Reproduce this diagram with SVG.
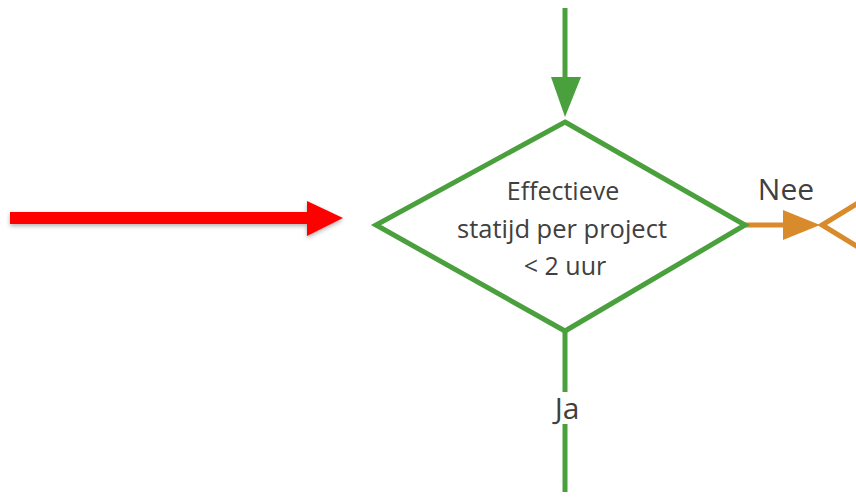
<svg xmlns="http://www.w3.org/2000/svg" width="856" height="498" viewBox="0 0 856 498">
<defs>
<filter id="sh" x="-5%" y="-50%" width="110%" height="200%"><feDropShadow dx="0" dy="2" stdDeviation="2" flood-color="#000" flood-opacity="0.3"/></filter>
</defs>
<style>
.g{stroke:#4aa03c;stroke-width:5;fill:none}
.o{stroke:#d98a2b;stroke-width:5;fill:none}
.t{font-family:"Open Sans","Liberation Sans",sans-serif;fill:#404040;text-anchor:middle}
</style>
<rect width="856" height="498" fill="#fff"/>
<g id="connectors">
<line class="g" x1="565" y1="8" x2="565" y2="80"/>
<polygon points="551,77 581,77 565,117" fill="#4aa03c"/>
<line class="g" x1="565" y1="332" x2="565" y2="492"/>
<rect x="547" y="392" width="41" height="32" fill="#fff"/>
<text class="t" x="567" y="419" font-size="30">Ja</text>
<line class="o" x1="745" y1="225" x2="786" y2="225"/>
<polygon points="783,210 783,240 820,225" fill="#d98a2b"/>
<text class="t" x="786" y="200" font-size="30">Nee</text>
</g>
<g id="decision">
<polygon class="g" points="565,122 745,225 565,331 376,225" fill="#fff"/>
<text class="t" x="563" y="200" font-size="25">Effectieve</text>
<text class="t" x="562" y="238" font-size="25.5">statijd per project</text>
<text class="t" x="565" y="275" font-size="25">&lt; 2 uur</text>
</g>
<g id="next">
<polyline class="o" points="858,203 822,225 858,247"/>
</g>
<g id="pointer" filter="url(#sh)">
<rect x="10" y="212" width="299" height="12" fill="#ff0000"/>
<polygon points="307,201 343,218 307,236" fill="#ff0000"/>
</g>
</svg>
